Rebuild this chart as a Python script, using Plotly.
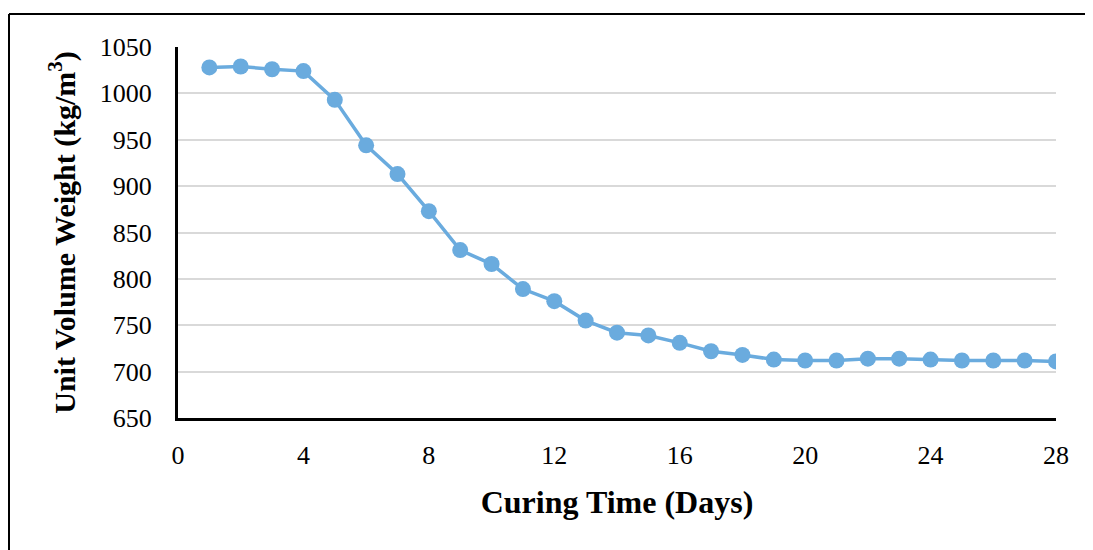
import plotly.graph_objects as go

days = list(range(1, 29))
unit_weight = [1028, 1029, 1026, 1024, 993, 944, 913, 873, 831, 816, 789, 776,
               755, 742, 739, 731, 722, 718, 713, 712, 712, 714, 714, 713,
               712, 712, 712, 711]
x_ticks = [0, 4, 8, 12, 16, 20, 24, 28]
y_ticks = [650, 700, 750, 800, 850, 900, 950, 1000, 1050]

FONT = "Liberation Serif, Times New Roman, serif"
BLUE = "#6AABDE"

fig = go.Figure()
fig.add_trace(go.Scatter(
    x=days, y=unit_weight, mode="lines+markers",
    line=dict(color=BLUE, width=3.5),
    marker=dict(color=BLUE, size=16),
    showlegend=False,
))

fig.update_layout(
    width=1093, height=550,
    margin=dict(l=170, r=45, t=39, b=140, autoexpand=False),
    paper_bgcolor="white", plot_bgcolor="white",
    font=dict(family=FONT, color="black", size=26),
    xaxis=dict(
        range=[0, 28], tickvals=x_ticks, showgrid=False, zeroline=False,
        showline=True, linecolor="black", linewidth=3,
        tickfont=dict(size=26), ticklabelstandoff=12,
        title=dict(text="<b>Curing Time (Days)</b>", font=dict(size=32), standoff=22),
        automargin=False,
    ),
    yaxis=dict(
        range=[650, 1050], tickvals=y_ticks, showgrid=True,
        gridcolor="#D9D9D9", gridwidth=1.5, zeroline=False,
        showline=True, linecolor="black", linewidth=3,
        tickfont=dict(size=26), ticklabelstandoff=18,
        title=dict(text="<b>Unit Volume Weight (kg/m<sup>3</sup>)</b>", font=dict(size=30), standoff=16),
        automargin=False,
    ),
)

# outer frame (left and top edges visible)
plot_w, plot_h = 1056 - 178, 418 - 47
px0, px1 = (9 - 178) / plot_w, (1110 - 178) / plot_w
py_top, py_bot = (418 - 14) / plot_h, (418 - 580) / plot_h
fig.add_shape(type="line", xref="paper", yref="paper", x0=px0, x1=px0, y0=py_bot, y1=py_top,
              line=dict(color="black", width=2))
fig.add_shape(type="line", xref="paper", yref="paper", x0=px0, x1=px1, y0=py_top, y1=py_top,
              line=dict(color="black", width=2))

fig.write_html("out.html")
